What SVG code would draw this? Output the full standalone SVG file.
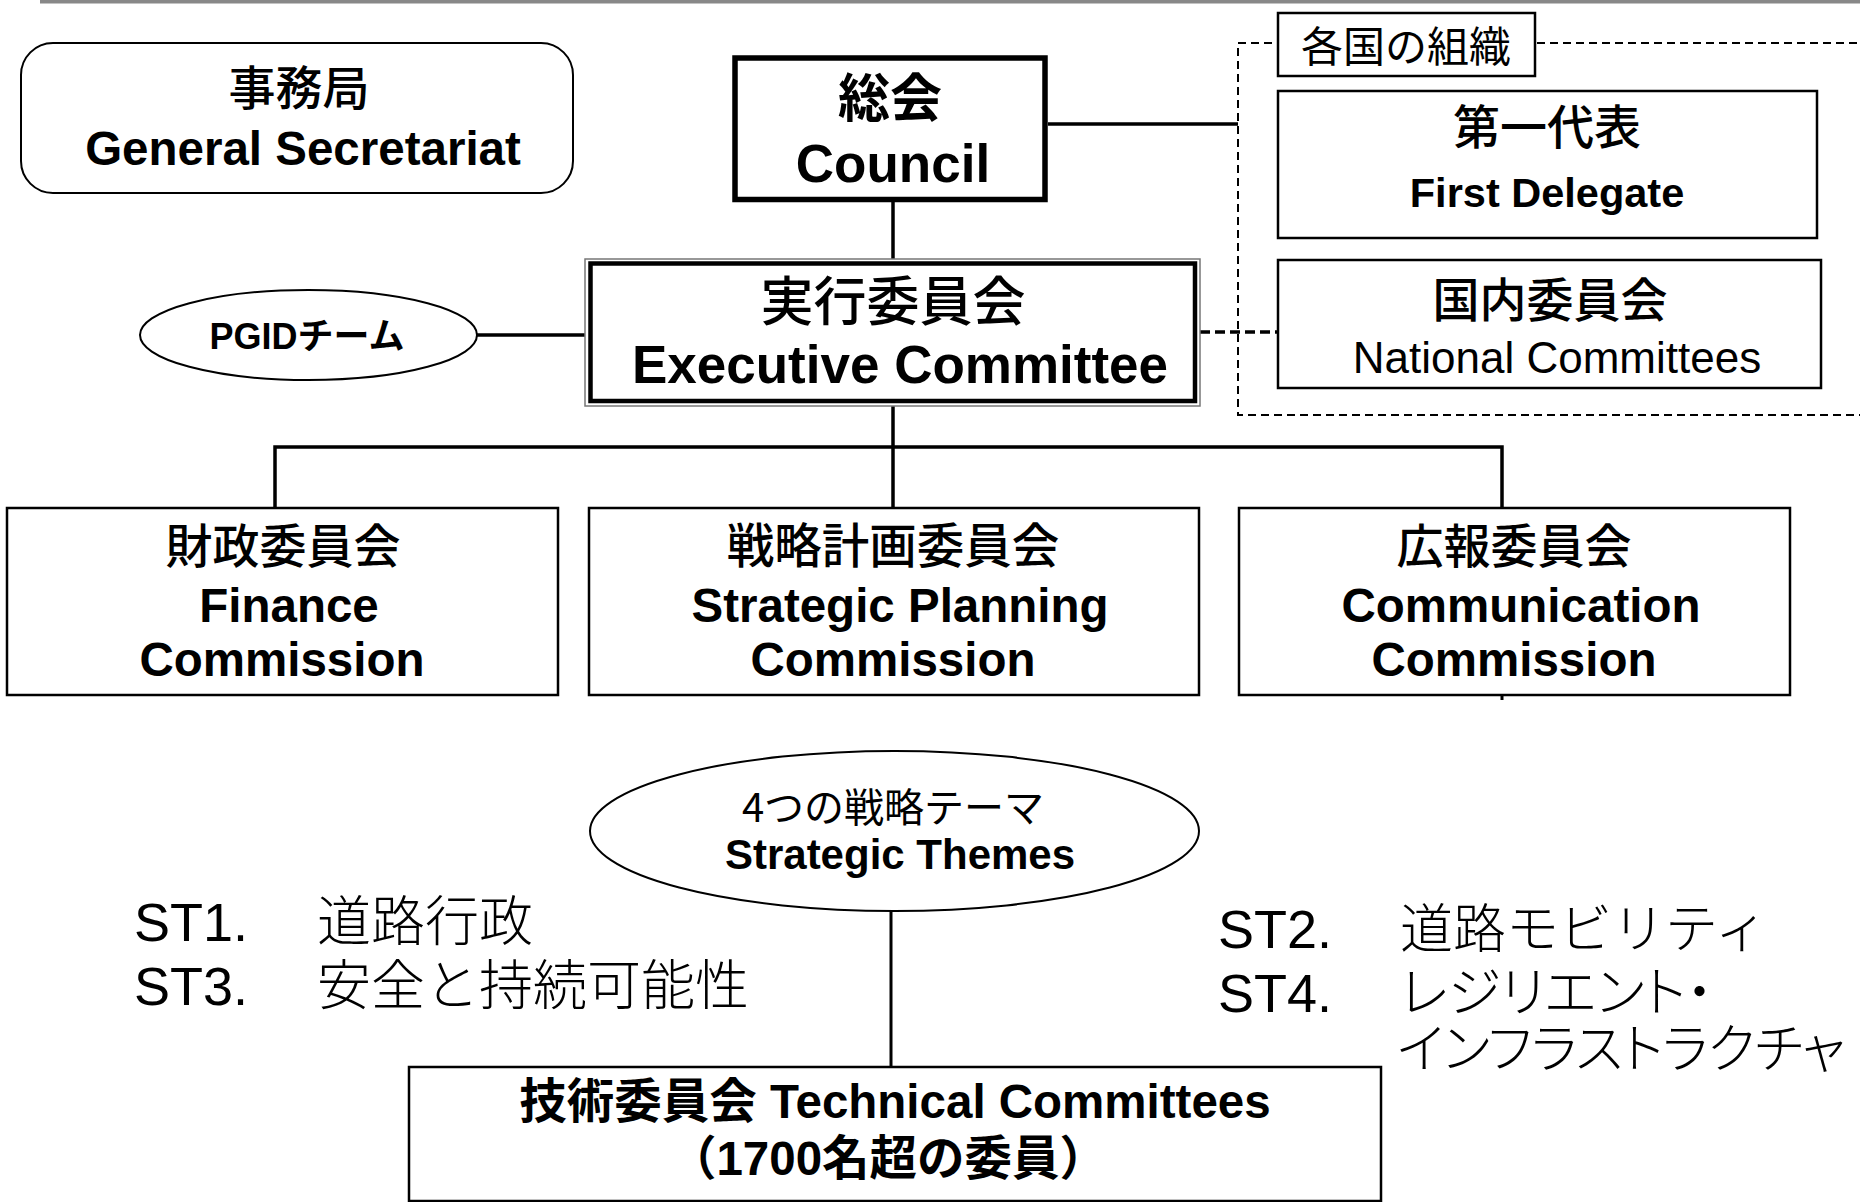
<svg xmlns="http://www.w3.org/2000/svg" width="1860" height="1202" viewBox="0 0 1860 1202">
<style>
text{font-family:"Liberation Sans","Noto Sans CJK JP",sans-serif;fill:#000;text-anchor:middle}
.b{font-weight:bold}
.j{font-family:"Noto Sans CJK JP",sans-serif;font-weight:500}
.jr{font-family:"Noto Sans CJK JP",sans-serif;font-weight:normal}
.jb{font-family:"Noto Sans CJK JP",sans-serif;font-weight:bold}
.jl{font-family:"Noto Sans CJK JP",sans-serif;font-weight:300}
.box{fill:#fff;stroke:#000;stroke-width:2.5}
.ln{fill:none;stroke:#000;stroke-width:3.5}
.st{text-anchor:start;font-size:54px}
.palt{font-feature-settings:"palt"}
</style>
<rect width="1860" height="1202" fill="#fff"/>
<line x1="40" y1="1.7" x2="1860" y2="1.7" stroke="#888" stroke-width="3.5"/>

<g id="connectors">
  <line class="ln" x1="893" y1="202" x2="893" y2="262"/>
  <line class="ln" x1="1048" y1="124" x2="1238" y2="124"/>
  <line class="ln" x1="477" y1="335" x2="586" y2="335"/>
  <line class="ln" x1="893" y1="404" x2="893" y2="508"/>
  <polyline class="ln" points="275,508 275,447 1502,447 1502,508"/>
  <line x1="1502" y1="695" x2="1502" y2="700" stroke="#000" stroke-width="3"/>
  <line x1="1200" y1="332" x2="1278" y2="332" stroke="#000" stroke-width="3.5" stroke-dasharray="10 5"/>
  <line x1="891" y1="911" x2="891" y2="1067" stroke="#000" stroke-width="3"/>
</g>

<g id="national-org">
  <path d="M1870,43 H1238 V415 H1870" fill="none" stroke="#000" stroke-width="2" stroke-dasharray="8 5"/>
</g>

<g id="secretariat">
  <rect x="21" y="43" width="552" height="150" rx="32" ry="32" fill="#fff" stroke="#000" stroke-width="2"/>
  <text x="299" y="105" class="j" font-size="47">事務局</text>
  <text x="303" y="165" class="b" font-size="47.5">General Secretariat</text>
</g>

<g id="council">
  <rect x="735" y="58" width="310" height="141.5" fill="#fff" stroke="#000" stroke-width="5.5"/>
  <text x="890" y="117" class="jb" font-size="52">総会</text>
  <text x="893" y="182" class="b" font-size="53">Council</text>
</g>

<g id="executive">
  <rect x="585" y="259" width="615" height="147" fill="#fff" stroke="#777" stroke-width="1.5"/>
  <rect x="590.5" y="263.5" width="604.5" height="137.5" fill="none" stroke="#000" stroke-width="4.5"/>
  <text x="893" y="321" class="j" font-size="53">実行委員会</text>
  <text x="900" y="383" class="b" font-size="53">Executive Committee</text>
</g>

<g id="pgid">
  <ellipse cx="308.5" cy="335" rx="168.5" ry="45" fill="#fff" stroke="#000" stroke-width="2"/>
  <text x="307" y="349" class="b" font-size="36">PGIDチーム</text>
</g>

<g id="label-national">
  <rect x="1278" y="13" width="257" height="63" class="box"/>
  <text x="1406" y="62" class="jr" font-size="42">各国の組織</text>
</g>

<g id="first-delegate">
  <rect x="1278" y="91" width="539" height="147" class="box" stroke-width="3"/>
  <text x="1547" y="144" class="j" font-size="47">第一代表</text>
  <text x="1547" y="207" class="b" font-size="41.5">First Delegate</text>
</g>

<g id="national-committees">
  <rect x="1278" y="260" width="543" height="128" class="box" stroke-width="3"/>
  <text x="1550" y="317" class="j" font-size="47">国内委員会</text>
  <text x="1557" y="373" font-size="44">National Committees</text>
</g>

<g id="finance">
  <rect x="7" y="508" width="551" height="187" class="box"/>
  <text x="283" y="563" class="j" font-size="47">財政委員会</text>
  <text x="289" y="622" class="b" font-size="47.5">Finance</text>
  <text x="282" y="676" class="b" font-size="47.5">Commission</text>
</g>

<g id="strategic-planning">
  <rect x="589" y="508" width="610" height="187" class="box"/>
  <text x="893" y="563" class="j" font-size="47.5">戦略計画委員会</text>
  <text x="900" y="622" class="b" font-size="47.5">Strategic Planning</text>
  <text x="893" y="676" class="b" font-size="47.5">Commission</text>
</g>

<g id="communication">
  <rect x="1239" y="508" width="551" height="187" class="box"/>
  <text x="1514" y="563" class="j" font-size="47">広報委員会</text>
  <text x="1521" y="622" class="b" font-size="47.5">Communication</text>
  <text x="1514" y="676" class="b" font-size="47.5">Commission</text>
</g>

<g id="strategic-themes">
  <ellipse cx="894.5" cy="831" rx="304.5" ry="80" fill="#fff" stroke="#000" stroke-width="2"/>
  <text x="893" y="822" class="jr" font-size="40">4つの戦略テーマ</text>
  <text x="900" y="869" class="b" font-size="42">Strategic Themes</text>
</g>

<g id="themes-left">
  <text class="st"><tspan x="134" y="941">ST1.　</tspan><tspan x="317" y="941" class="jl">道路行政</tspan><tspan x="134" y="1005">ST3.　</tspan><tspan x="317" y="1005" class="jl">安全と持続可能性</tspan></text>
</g>

<g id="themes-right">
  <text class="st"><tspan x="1218" y="948">ST2.　</tspan><tspan x="1400" y="948" class="jl" font-size="53">道路モビリティ</tspan><tspan x="1218" y="1012">ST4.　</tspan><tspan x="1400" y="1012" class="jl palt">レジリエント・</tspan><tspan x="1397" y="1068" class="jl palt" font-size="53" textLength="448" lengthAdjust="spacing">インフラストラクチャ</tspan></text>
</g>

<g id="technical">
  <rect x="409" y="1067" width="972" height="134" class="box"/>
  <text x="895" y="1118" font-size="47.5"><tspan class="jb">技術委員会</tspan><tspan class="b"> Technical Committees</tspan></text>
  <text x="888" y="1175" class="b" font-size="47.5">（1700名超の委員）</text>
</g>
</svg>
